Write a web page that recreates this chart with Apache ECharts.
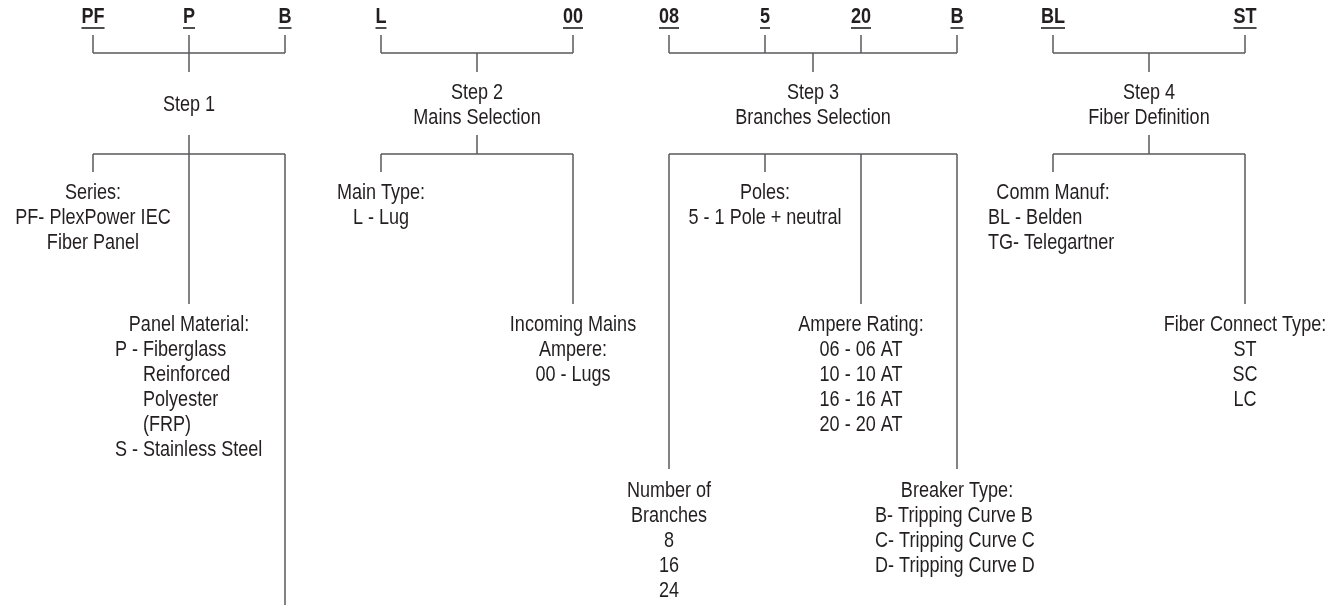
<!DOCTYPE html>
<html>
<head>
<meta charset="utf-8">
<script src="https://cdn.jsdelivr.net/npm/echarts@6/dist/echarts.min.js"></script>
<style>
html,body{margin:0;padding:0;background:#fff;}
#chart{width:1338px;height:608px;}
</style>
</head>
<body>
<div id="chart"></div>
<script>
// ---------- content ----------
const codeGroups = [
  ['PF', 'P', 'B'],
  ['L', '00'],
  ['08', '5', '20', 'B'],
  ['BL', 'ST']
];
const stepTitles = ['Step 1', 'Step 2\nMains Selection', 'Step 3\nBranches Selection', 'Step 4\nFiber Definition'];
const seriesText = ['Series:', 'PF- PlexPower IEC', 'Fiber Panel'];
const panelHeader = 'Panel Material:';
const panelPrefixes = ['P -', '', '', '', 'S -'];
const panelItems = ['Fiberglass', 'Reinforced', 'Polyester', '(FRP)', 'Stainless Steel'];
const mainTypeText = ['Main Type:', 'L - Lug'];
const mainsAmpText = ['Incoming Mains', 'Ampere:', '00 - Lugs'];
const polesText = ['Poles:', '5 - 1 Pole + neutral'];
const ampereText = ['Ampere Rating:', '06 - 06 AT', '10 - 10 AT', '16 - 16 AT', '20 - 20 AT'];
const branchesText = ['Number of', 'Branches', '8', '16', '24'];
const breakerHeader = 'Breaker Type:';
const breakerItems = ['B- Tripping Curve B', 'C- Tripping Curve C', 'D- Tripping Curve D'];
const commHeader = 'Comm Manuf:';
const commItems = ['BL - Belden', 'TG- Telegartner'];
const fiberText = ['Fiber Connect Type:', 'ST', 'SC', 'LC'];

// ---------- layout (diagram coordinates) ----------
const codeX = [[93, 189, 285], [381, 573], [669, 765, 861, 957], [1053, 1245]];
const groupCenter = [189, 477, 813, 1149];
const hasLowerStem = [true, true, false, true];
const dropEnds = [[172, 304, 605], [172, 304], [469, 172, 304, 469], [172, 304]];
const LH = 25;
const Y = { code: 17, underline: 28, tickTop: 35, bar1: 53, stem1: 72, step: 105, stem2: 135, bar2: 154, row1: 192.5, row2: 325, row3: 491 };

const FONT = '"Liberation Sans", Arial, sans-serif';
const FS = 22;
const SX = 0.82; // condensed look
const TXT = '#231f20';
const LINE = '#58595b';

const cv = document.createElement('canvas').getContext('2d');
cv.font = 'bold ' + FS + 'px ' + FONT;

const segs = [];
const underlines = [];
const labels = [];

function lbl(x, y, text, align, vAlign, bold) {
  labels.push({ x: x, y: y, text: text, align: align, vAlign: vAlign, bold: !!bold });
}
function block(x, firstY, lines, align) {
  lbl(x, firstY - LH / 2, lines.join('\n'), align || 'center', 'top');
}

codeGroups.forEach((g, gi) => {
  const xs = codeX[gi];
  g.forEach((c, i) => {
    lbl(xs[i], Y.code, c, 'center', 'middle', true);
    const w = cv.measureText(c).width * SX;
    underlines.push({ coords: [[xs[i] - w / 2, Y.underline], [xs[i] + w / 2, Y.underline]] });
    segs.push({ coords: [[xs[i], Y.tickTop], [xs[i], Y.bar1]] });
    segs.push({ coords: [[xs[i], Y.bar2], [xs[i], dropEnds[gi][i]]] });
  });
  segs.push({ coords: [[xs[0], Y.bar1], [xs[xs.length - 1], Y.bar1]] });
  segs.push({ coords: [[groupCenter[gi], Y.bar1], [groupCenter[gi], Y.stem1]] });
  if (hasLowerStem[gi]) segs.push({ coords: [[groupCenter[gi], Y.stem2], [groupCenter[gi], Y.bar2]] });
  segs.push({ coords: [[xs[0], Y.bar2], [xs[xs.length - 1], Y.bar2]] });
  lbl(groupCenter[gi], Y.step, stepTitles[gi], 'center', 'middle');
});

block(93, Y.row1, seriesText);
lbl(189, Y.row2, panelHeader, 'center', 'middle');
panelPrefixes.forEach((p, i) => { if (p) lbl(115, Y.row2 + LH * (i + 1), p, 'left', 'middle'); });
block(143, Y.row2 + LH, panelItems, 'left');
block(381, Y.row1, mainTypeText);
block(573, Y.row2, mainsAmpText);
block(765, Y.row1, polesText);
block(861, Y.row2, ampereText);
block(669, Y.row3, branchesText);
lbl(957, Y.row3, breakerHeader, 'center', 'middle');
block(875, Y.row3 + LH, breakerItems, 'left');
lbl(1053, Y.row1, commHeader, 'center', 'middle');
block(988, Y.row1 + LH, commItems, 'left');
block(1245, Y.row2, fiberText);

const chart = echarts.init(document.getElementById('chart'), null, { renderer: 'canvas' });
chart.setOption({
  animation: false,
  backgroundColor: '#ffffff',
  grid: { left: 0, right: 0, top: 0, bottom: 0 },
  xAxis: { type: 'value', min: 0, max: 1338, show: false },
  yAxis: { type: 'value', min: 0, max: 608, inverse: true, show: false },
  series: [
    {
      type: 'lines', coordinateSystem: 'cartesian2d', silent: true,
      lineStyle: { color: LINE, width: 1.5, opacity: 1 },
      data: segs
    },
    {
      type: 'lines', coordinateSystem: 'cartesian2d', silent: true,
      lineStyle: { color: TXT, width: 1.6, opacity: 1 },
      data: underlines
    },
    {
      type: 'custom', silent: true, clip: false,
      data: labels.map((l, i) => [l.x, l.y, i]),
      encode: { x: 0, y: 1 },
      renderItem: function (params, api) {
        const l = labels[api.value(2)];
        const p = api.coord([api.value(0), api.value(1)]);
        return {
          type: 'text',
          x: p[0], y: p[1],
          scaleX: SX,
          style: {
            text: l.text,
            fill: TXT,
            fontFamily: FONT,
            fontSize: FS,
            fontWeight: l.bold ? 'bold' : 'normal',
            lineHeight: LH,
            align: l.align,
            verticalAlign: l.vAlign
          }
        };
      }
    }
  ]
});
</script>
</body>
</html>
